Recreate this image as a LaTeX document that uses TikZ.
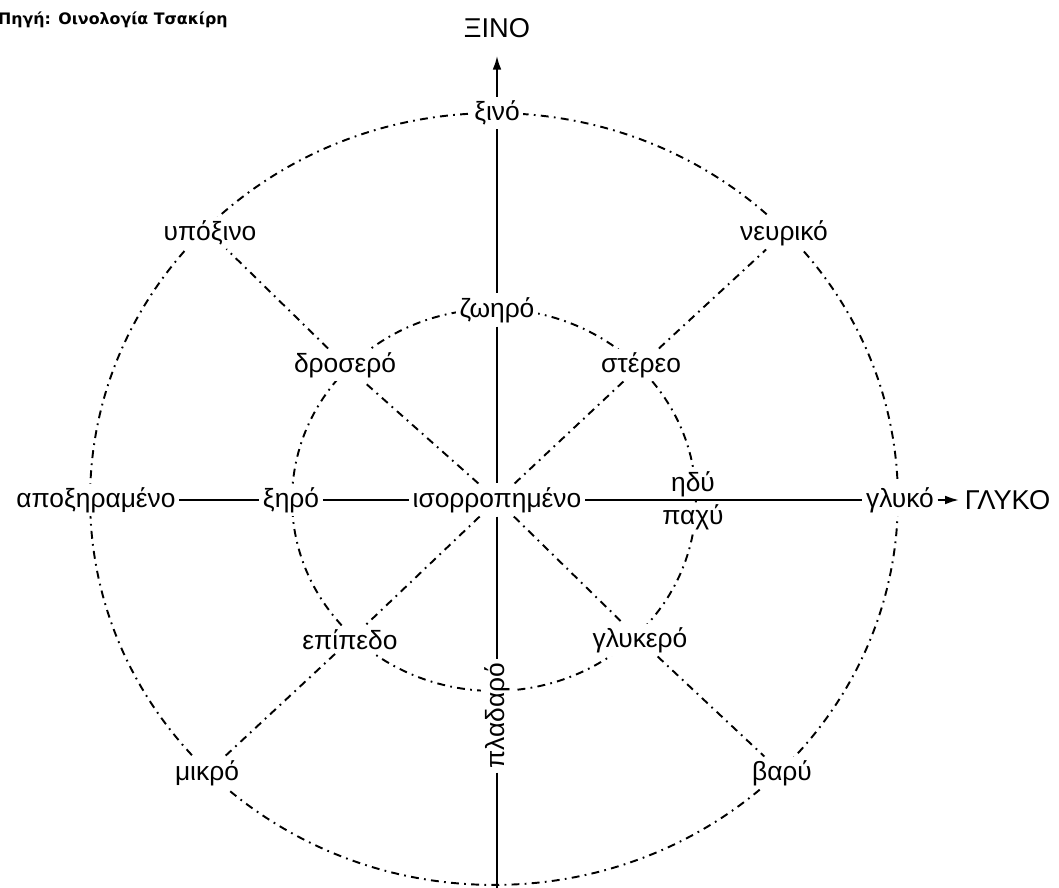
\documentclass[tikz,border=0pt]{standalone}
\usepackage{fontspec}
\setmainfont{Liberation Sans}
\newfontfamily\sourcefont{DejaVu Sans}
\usetikzlibrary{arrows.meta}

\tikzstyle{word} = [fill=white, inner sep=2pt,
    font=\fontsize{15}{17}\selectfont]
\tikzstyle{pole} = [inner sep=2pt, font=\fontsize{15.5}{17}\selectfont]
\tikzstyle{axis} = [line width=1.3pt]
\tikzstyle{ring} = [line width=1.1pt,
    dash pattern=on 4.5pt off 3pt on 1pt off 3pt]

\begin{document}
\begin{tikzpicture}[x=0.02cm, y=-0.02cm]
	\useasboundingbox (0,0) rectangle (1059,888);
	% circles
	\draw [ring] (494,499) ellipse [x radius=8.08cm, y radius=7.72cm];
	\draw [ring] (494,500) ellipse [x radius=4.04cm, y radius=3.82cm];
	%
	\node [anchor=west, font=\sourcefont\bfseries\fontsize{9}{10}\selectfont] (src) at (-8,20) {Πηγή: Οινολογία Τσακίρη};
	\node [pole] (XINO) at (497,28) {ΞΙΝΟ};
	\node [pole, anchor=west] (GLYKO) at (961,500) {ΓΛΥΚΟ};
	%
	\node [word] (xino) at (497,113) {ξινό};
	\node [word] (zoiro) at (497,310) {ζωηρό};
	\node [word] (isor) at (497,500) {ισορροπημένο};
	\node [word, rotate=90] (plad) at (497,716) {πλαδαρό};
	\coordinate (bot) at (497,888);
	%
	\node [word] (apox) at (96,500) {αποξηραμένο};
	\node [word] (xiro) at (291,500) {ξηρό};
	\node [word, anchor=south, inner sep=1pt] (idy) at (693,499) {ηδύ};
	\node [word, anchor=north, inner sep=1pt] (paxy) at (693,503) {παχύ};
	\node [word] (glyko) at (900,500) {γλυκό};
	%
	\node [word] (ypox) at (210,233) {υπόξινο};
	\node [word] (dros) at (345,365) {δροσερό};
	\node [word] (nevr) at (784,233) {νευρικό};
	\node [word] (ster) at (641,365) {στέρεο};
	\node [word] (epip) at (350,640) {επίπεδο};
	\node [word] (mikr) at (207,773) {μικρό};
	\node [word] (glyk) at (640,640) {γλυκερό};
	\node [word] (bary) at (782,773) {βαρύ};
	%
	\draw [axis, -{Latex[length=8pt,width=5pt]}, shorten >=8pt] (xino) -- (XINO);
	\draw [axis] (xino) -- (zoiro) -- (isor) -- (plad) -- (bot);
	\draw [axis] (apox) -- (xiro) -- (isor) -- (glyko);
	\draw [axis, -{Latex[length=8pt,width=5pt]}, shorten >=1pt] (glyko) -- (GLYKO);
	%
	\draw [ring] (isor) -- (dros) -- (ypox);
	\draw [ring] (isor) -- (ster) -- (nevr);
	\draw [ring] (isor) -- (epip) -- (mikr);
	\draw [ring] (isor) -- (glyk) -- (bary);
\end{tikzpicture}
\end{document}
